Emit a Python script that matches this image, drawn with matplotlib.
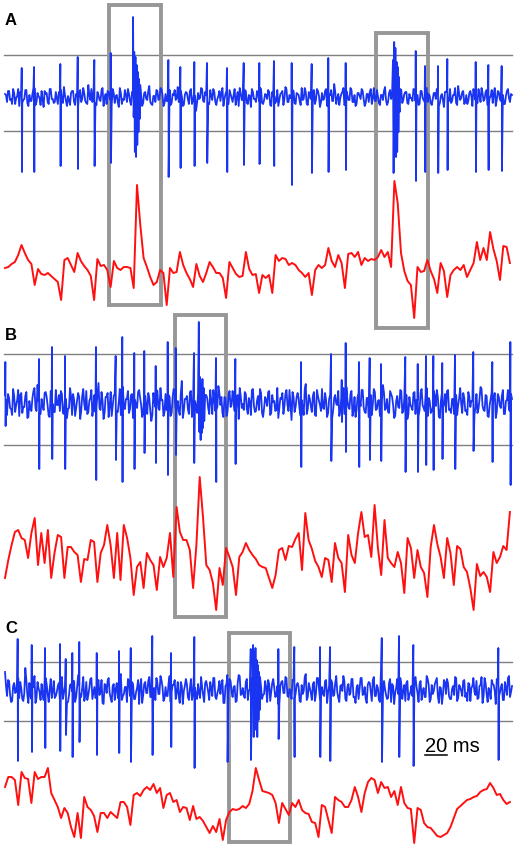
"""Spike train (blue, with thresholds) and LFP (red) for three recordings, A-C.
Grey boxes mark the bursts. Writes out.png at 515x850 px."""
import numpy as np
import matplotlib; matplotlib.use("Agg")
import matplotlib.pyplot as plt
from matplotlib.patches import Rectangle

plt.rcParams['font.family'] = ['Liberation Sans', 'DejaVu Sans']

BLUE = "#1a35f2"; RED = "#ff1010"; LINE = "#7f7f7f"; BOX = "#979797"
W, H = 515, 850          # figure, px
PX_PER_MS = 1.1          # 20 ms bar = 22 px
X0 = 5                   # px where traces start

# ---------------- panel A ----------------
spk_a_t  = [15.2, 26.4, 50.3, 66.1, 81.2, 96.1, 148.5, 159.4, 172.1, 183.6, 201.8, 217.0, 231.2,
            244.5, 260.6, 278.8, 293.9, 309.7, 373.4, 381.8, 393.6, 402.1, 427.9, 439.4, 451.5]
spk_a_up = [29, 30, 33, 40, 37, 44, 37, 30, 35, 34, 29, 34, 34, 36, 34, 33, 39, 34, 46, 31, 31, 38, 35, 32, 31]
spk_a_dn = [-75, -75, -69, -72, -69, -66, -80, -71, -69, -66, -75, -68, -67, -69, -88, -76, -75, -73,
            -84, -75, -76, -73, -75, -73, -74]
burst_a = [(116.4, [80, -20, 45, -55, 40, -60, 32, -48, 25, -35, 18, -22, 12]),
           (352.7, [37, -76, 55, -40, 49, -60, 35, -55, 30, -35, 20, -15])]
# background noise, two interleaved sample rows (even / odd samples)
noise_a = [3,-5,6,-2,8,-7,1,-9,5,-3,7,-6,2,-4,9,-8,4,-1,6,-10,3,-5,8,-2,-6,
           5,-7,2,-3,10,-4,1,-8,6,-5,3,-9,7,-2,4,-6,12,-3,-5,6,-8,2,-4,9,-1,
           -7,5,-3,8,-6,2,-10,4,-2,7,-5,3,-8,6,-1,9,-4,2,-6,5,-3,11,-7,1,-5,
           6,-2,8,-9,3,-4,7,-6,2,-3,10,-5,1,-8,5,-2,6,-7,3,-14,4,-1,8,-5,2,
           -6,7,-3,5,-8,1,-4,9,-2,6,-7,3,-5,8,-1,-9,4,-3,7,-6,2,-10,5,-2,6,
           -4,8,-7,3,-2,5,-9,1,-6,7,-3,4,-8,10,-5,2,-1,6,-7,3,-4,9,-2,5,-8,
           1,-5,7,-3,6,-10,4,-2,8,-6,2,-4,13,-7,3,-1,5,-8,6,-3,9,-5,2,-7,4,
           -2,6,-9,3,-5,8,-1,-4,7,-6,2,-3,10,-8,4,-2,6,-5,1,-9,7,-3,5,-6,3,
           -1,8,-4,2,-7,6,-3,9,-5,1,-8,4,-2,7,-6,3,-10,5,-1,8,-4,2,-6,11,-3,
           5,-7,2,-4,6,-9,3,-1,8,-5,4,-2,7,-8,1,-6,9,-3,5,-4,2,-7,6,-1,3]
noise_a2 = [2,6,-3,-7,4,-1,8,5,-6,-2,7,-9,-4,3,9,-5,1,-8,-3,6,4,-7,8,-2,-5,
            -1,5,7,-6,2,-9,-3,4,6,-8,1,3,-5,9,-4,-7,2,8,-1,-6,5,-3,7,-9,3,
            6,-2,-8,4,1,-5,9,-7,-3,2,8,-4,5,-6,-1,7,3,-9,4,-2,6,-5,-8,1,7,
            -3,9,2,-6,-4,5,-8,3,7,-1,-5,6,-9,2,4,-7,8,-3,1,-6,-2,9,-4,5,3,
            -7,1,8,-5,-2,6,4,-9,3,-6,7,-1,2,-8,5,9,-3,-4,6,-7,1,8,-2,-5,4,
            9,-6,-3,2,7,-8,5,1,-4,-9,3,6,-2,8,-5,-1,7,-6,4,2,-8,-3,9,-7,5,
            -2,4,-7,8,1,-5,-3,6,-9,2,7,-4,5,-1,-8,3,9,-6,2,-3,7,-5,-9,4,1,
            8,-2,-6,3,5,-7,9,-4,1,-8,2,6,-3,-5,7,4,-9,1,-2,8,-6,3,5,-7,-1,
            -4,7,2,-8,6,-1,-5,9,3,-6,-2,4,8,-9,1,-3,5,7,-4,-6,2,9,-8,3,-1,
            6,-5,-7,4,1,8,-3,-6,2,9,-4,5,-8,-1,7,3,-9,6,-2,4,-7,1,8,-5,2]
red_a = [5, 6, 9, 11, 18, 28, 20, 13, 9, -12,
         4, -1, -2, 0, -3, -6, -9, -27, 13, 15,
         8, 1, 20, 12, 7, 3, -3, -27, 14, 7,
         8, 3, -14, 12, 5, 3, 6, 6, 5, -15,
         88, 48, 15, 6, -4, -12, -9, 3, 0, -32,
         5, 0, 1, 21, 8, 0, -6, -14, 9, -3,
         -9, 0, 11, 6, 0, 0, -5, -25, 11, 5,
         -1, -4, -3, 21, 4, -2, -1, -20, -2, -5,
         -2, -20, 18, 12, 15, 14, 8, 10, 8, 3,
         0, -4, 0, -22, 3, 8, 5, 8, 25, 12,
         6, 18, 10, -15, 19, 20, 16, 21, 8, 15,
         12, 14, 13, 16, 23, 16, 21, 6, 92, 70,
         20, 2, -8, -12, -45, 6, 1, 2, 13, 2,
         -6, -20, 10, 2, -24, -2, 3, 6, 3, 8,
         -4, 3, 10, 31, 13, 25, 13, 41, 24, 12,
         -7, 27, 26, 10]

# ---------------- panel B ----------------
spk_b_t  = [0.3, 30.9, 42.7, 54.5, 82.7, 100.6, 106.6, 117.5, 126.6, 137.0, 147.9, 155.2, 171.8,
            191.8, 209.4, 269.1, 296.4, 306.1, 309.7, 321.8, 331.5, 341.8, 363.9, 375.2, 382.7,
            389.4, 397.5, 409.1, 425.7, 443.0, 459.4]
spk_b_up = [41, 44, 56, 47, 56, 47, 66, 50, 52, 37, 61, 55, 50, 45, 44, 41, 49, 23, 60, 41, 45, 39,
            46, 39, 47, 47, 40, 48, 51, 41, 61]
spk_b_dn = [-23, -66, -56, -66, -77, -57, -79, -66, -50, -60, -72, -52, -60, -79, -61, -64, -58, -19,
            -49, -64, -57, -58, -69, -69, -62, -67, -56, -66, -48, -59, -82]
burst_b = [(176.2, [81, -29, 26, -37, 20, -30, 24, -25, 15, -18])]
noise_b = [8,-12,5,-6,14,-9,3,-13,10,-4,7,-15,2,-8,12,-5,18,-10,4,-7,11,-3,-14,6,-9,
           13,-2,-8,9,-11,4,-6,15,-12,3,-5,10,-16,7,-1,12,-9,5,-13,8,-4,20,-7,2,-10,
           6,-14,11,-3,9,-8,1,-12,16,-6,4,-10,8,-15,3,-5,13,-2,-9,7,-11,5,-18,10,-4,
           12,-7,3,-13,9,-1,6,-10,14,-5,2,-12,22,-8,4,-6,11,-14,7,-3,10,-9,1,-15,8,
           -5,13,-11,4,-7,17,-2,-10,6,-13,9,-4,12,-8,3,-16,7,-1,11,-6,5,-12,14,-9,2,
           -7,10,-14,6,-3,12,-10,1,-8,15,-5,4,-11,9,-2,13,-17,6,-4,10,-7,3,-12,19,-6,
           4,-9,11,-13,7,-2,14,-6,3,-10,8,-15,5,-1,12,-8,2,-11,16,-4,9,-13,6,-7,10,
           -3,13,-9,5,-14,8,-1,11,-6,3,-12,18,-7,4,-10,9,-2,-13,7,-5,12,-8,1,-16,6,
           -4,10,-11,3,-7,14,-5,9,-13,2,-8,12,-3,6,-15,10,-1,-9,13,-6,4,-11,8,-2,15,
           -10,5,-7,11,-4,2,-12,9,-6,16,-3,-8,7,-14,4,-1,10,-9,6,-5,13,-11,3,-7,9]
noise_b2 = [3,9,-5,-12,7,-2,13,8,-10,-4,11,-14,-6,5,15,-8,2,-11,-3,10,6,-13,12,-1,-9,
            -2,8,12,-10,4,-15,-5,7,9,-13,3,6,-8,14,-7,-11,2,13,-4,-9,8,-5,11,-16,6,
            10,-3,-13,7,1,-9,14,-11,-5,4,12,-6,9,-10,-2,11,5,-14,7,-3,10,-8,-12,2,13,
            -5,15,3,-9,-7,8,-13,6,11,-2,-8,9,-15,4,7,-11,12,-5,2,-10,-3,14,-6,8,5,
            -11,2,13,-8,-4,10,6,-14,5,-9,12,-2,3,-13,8,15,-5,-7,9,-11,1,13,-3,-8,7,
            14,-10,-5,3,11,-12,8,2,-7,-15,5,10,-3,13,-8,-2,11,-9,6,4,-13,-5,14,-11,8,
            -3,7,-12,13,2,-8,-5,10,-14,4,11,-7,8,-2,-13,5,15,-10,3,-6,12,-8,-14,6,2,
            13,-4,-10,5,8,-12,14,-7,2,-13,3,10,-5,-9,12,6,-15,2,-4,13,-10,5,8,-11,-2,
            -7,11,3,-13,10,-2,-8,15,5,-10,-4,7,13,-14,2,-5,9,12,-7,-10,4,14,-12,5,-1,
            10,-8,-12,6,2,13,-5,-10,4,14,-7,8,-13,-2,11,5,-15,9,-3,7,-11,2,13,-8,4]
red_b = [-30, -12, 3, 16, 18, 10, 8, -10, 15, 30,
         -17, 15, -15, 18, -30, -5, 13, 11, -30, 1,
         1, -4, -7, -34, -11, -12, 8, 6, -34, -5,
         3, 23, 3, -30, 15, -32, 23, 10, -10, -47,
         -19, -14, -40, -5, -12, -17, -42, -9, -19, -10,
         15, -29, 41, 16, 8, 8, -2, -40, 3, 71,
         31, -17, -22, -35, -62, -20, -37, 0, -9, -19,
         -47, -9, -4, 5, -2, -7, -11, -17, -19, -20,
         -30, -40, -27, -2, 0, -12, 2, 1, 9, 15,
         -22, 35, 8, -1, -13, -19, -29, -10, -12, -34,
         5, -10, -15, -44, 13, -7, -15, 15, 36, 11,
         13, -9, 43, 0, -27, 28, -10, -15, -19, -4,
         -15, -45, 10, 0, -30, -2, -19, -25, -49, 1,
         23, 4, -9, -30, 10, -5, -37, 2, -1, -19,
         -24, -40, -62, -16, -28, -24, -29, -44, -4, -15,
         -9, 2, -2, 36]

# ---------------- panel C ----------------
spk_c_t  = [11.5, 24.3, 36.4, 50.0, 55.2, 61.2, 67.5, 83.4, 103.6, 114.3, 133.9, 150.9, 172.1,
            202.1, 223.4, 248.5, 263.0, 286.4, 295.5, 342.5, 358.2, 371.2, 448.5]
spk_c_up = [51, 45, 42, 46, 31, 37, 48, 37, 39, 42, 54, 37, 53, 15, 41, 41, 43, 43, 43, 52, 54, 45, 42]
spk_c_dn = [-71, -62, -58, -61, -45, -67, -52, -65, -63, -72, -65, -57, -78, -72, -70, -49, -67, -67,
            -71, -72, -67, -76, -70]
burst_c = [(225.5, [45, -47, 38, -40, 42, -35, 30, -47, 25, -30, 18, -20])]
noise_c = [18,-6,9,-12,4,-3,10,-8,2,-11,22,-5,7,-9,3,-13,8,-2,6,-10,12,-4,1,-8,9,
           -6,4,-10,13,-3,7,-12,5,-1,9,-7,15,-4,2,-11,8,-5,11,-9,3,-6,10,-2,-13,6,
           -3,12,-8,4,-10,7,-1,16,-6,3,-12,9,-4,6,-9,2,-14,11,-5,8,-3,13,-7,1,-10,
           7,-4,10,-11,3,-6,14,-2,5,-9,8,-13,4,-1,11,-7,2,-10,17,-5,6,-8,3,-12,9,
           -2,8,-6,12,-9,1,-4,10,-13,6,-3,9,-7,4,-11,15,-5,2,-8,11,-1,-10,7,-4,13,
           -8,3,-5,9,-12,6,-2,11,-7,4,-14,8,-3,13,-6,1,-9,10,-4,7,-11,5,-1,16,-7,
           2,-10,8,-4,12,-9,3,-6,10,-2,-12,7,-5,14,-8,4,-1,9,-11,6,-3,11,-7,2,-9,
           12,-5,3,-13,8,-2,10,-6,5,-10,18,-4,1,-9,7,-12,4,-3,11,-8,6,-1,-11,9,-5,
           4,-8,13,-3,6,-10,2,-7,11,-12,5,-1,9,-6,3,-14,10,-4,7,-9,1,-5,12,-8,3,
           -6,10,-3,7,-11,4,-2,9,-8,5,-13,12,-4,2,-9,6,-1,11,-7,3,-10,8,-5,14,-2]
noise_c2 = [4,10,-5,-11,7,-2,12,8,-9,-3,10,-13,-6,5,14,-8,2,-10,-4,9,6,-12,11,-1,-8,
            -2,7,11,-9,4,-13,-5,6,9,-12,3,5,-7,13,-6,-10,2,12,-3,-8,7,-5,10,-14,5,
            9,-3,-12,6,1,-8,13,-10,-4,3,11,-6,8,-9,-2,10,4,-13,6,-3,9,-7,-11,2,12,
            -4,14,3,-8,-6,7,-12,5,10,-2,-7,8,-14,4,6,-10,11,-4,2,-9,-3,13,-5,7,4,
            -10,2,12,-7,-3,9,5,-13,4,-8,11,-2,3,-12,7,14,-4,-6,8,-10,1,12,-3,-7,6,
            13,-9,-4,3,10,-11,7,2,-6,-14,4,9,-3,12,-7,-2,10,-8,5,3,-12,-4,13,-10,7,
            -3,6,-11,12,2,-7,-4,9,-13,4,10,-6,7,-2,-12,5,14,-9,3,-5,11,-7,-13,5,2,
            12,-4,-9,5,7,-11,13,-6,2,-12,3,9,-5,-8,11,6,-14,2,-4,12,-9,5,7,-10,-2,
            -6,10,3,-12,9,-2,-7,14,5,-9,-4,6,12,-13,2,-5,8,11,-6,-9,4,13,-11,5,-1,
            9,-7,-11,6,2,12,-5,-9,4,13,-6,7,-12,-2,10,5,-14,8,-3,6,-10,2,12,-7,4]
red_c = [18, 28, 28, 25, 0, 33, 27, 26, 2, 33,
         26, 28, 28, 37, 12, 5, -2, -13, -3, -8,
         -22, -32, -8, -33, 8, -2, -5, -11, -27, -8,
         -8, -13, -7, -10, -13, 3, 3, -2, -20, 10,
         12, 9, 15, 18, 15, 21, 12, 17, -3, 10,
         12, 3, 5, -7, -2, -3, -15, -1, -14, -12,
         -16, -22, -28, -21, -27, -14, -35, -15, -7, -4,
         -5, -4, -1, -3, 1, 14, 37, 25, 14, 13,
         12, 10, 2, -18, 2, -4, -10, 2, -2, 5,
         -5, -8, -9, -17, -18, -32, 0, -2, -15, -28,
         8, 5, 3, -2, -2, 5, 18, 8, -7, 12,
         23, 27, 25, 12, 23, 17, 18, 8, 14, 0,
         18, 2, -3, -4, -38, -3, -5, -18, -22, -23,
         -27, -31, -32, -30, -28, -22, -13, -4, -1, 2,
         5, 6, 8, 9, 13, 15, 16, 22, 17, 10,
         11, 5, 1, 3]

RED_DT = 3.0   # ms between LFP samples

# layout per panel: px rows, blue baseline, red baseline, threshold levels, line start, boxes (ms, y)
panels = [
    dict(lab="A", top=0, bot=310, base=97, red_base=273, thr=(42, -34), lx=(-0.9, -0.9), lab_y=25,
         boxes=[(94.5, 141.8, -208, 91.7), (337.3, 384.5, -231, 64.5)],
         noise=(noise_a, noise_a2), st=spk_a_t, su=spk_a_up, sd=spk_a_dn, bursts=burst_a, red=red_a),
    dict(lab="B", top=310, bot=620, base=403, red_base=548, thr=(49, -42), lx=(-0.9, -0.9), lab_y=340,
         boxes=[(154.1, 200.5, -214, 88)],
         noise=(noise_b, noise_b2), st=spk_b_t, su=spk_b_up, sd=spk_b_dn, bursts=burst_b, red=red_b),
    dict(lab="C", top=620, bot=850, base=690, red_base=805, thr=(28, -31), lx=(22.7, -0.9), lab_y=633,
         boxes=[(203.9, 259.1, -152.3, 56.7)],
         noise=(noise_c, noise_c2), st=spk_c_t, su=spk_c_up, sd=spk_c_dn, bursts=burst_c, red=red_c),
]

def blue_trace(noise, st, su, sd, bursts):
    even, odd = noise
    te = np.linspace(0, 460, len(even)); half = (te[1] - te[0]) / 2
    t = list(te) + list(np.linspace(0, 460, len(odd)) + half)
    v = list(even) + list(odd)
    for ts, up, dn in zip(st, su, sd):
        t += [ts, ts + 0.25]; v += [up, dn]
    for t0, vals in bursts:
        for i, b in enumerate(vals):
            t.append(t0 + 0.55 * i); v.append(b)
    o = np.argsort(t, kind="stable")
    return np.array(t)[o], np.array(v, float)[o]

fig = plt.figure(figsize=(W / 100, H / 100), dpi=100)
x_end = (512 - X0) / PX_PER_MS
for p in panels:
    ax = fig.add_axes([0, 1 - p["bot"] / H, 1, (p["bot"] - p["top"]) / H])
    ax.set_xlim(-X0 / PX_PER_MS, (W - X0) / PX_PER_MS)
    ax.set_ylim(p["base"] - p["bot"], p["base"] - p["top"])
    ax.axis("off")
    for lvl, xs in zip(p["thr"], p["lx"]):
        ax.plot([xs, x_end], [lvl, lvl], color=LINE, lw=1.0, zorder=1)
    for x0, x1, y0, y1 in p["boxes"]:
        ax.add_patch(Rectangle((x0, y0), x1 - x0, y1 - y0, fill=False, ec=BOX, lw=2.8,
                               zorder=2, clip_on=False))
    bt, bv = blue_trace(p["noise"], p["st"], p["su"], p["sd"], p["bursts"])
    ax.plot(bt, bv, color=BLUE, lw=1.3, zorder=3, clip_on=False)
    rt = np.arange(len(p["red"])) * RED_DT
    ax.plot(rt, np.array(p["red"]) + (p["base"] - p["red_base"]), color=RED, lw=1.4, zorder=3,
            clip_on=False)
    fig.text(5 / W, 1 - p["lab_y"] / H, p["lab"], fontsize=12, weight="bold", ha="left", va="baseline")
    if p["lab"] == "C":
        ax.plot([381.8, 401.8], [-65, -65], color="k", lw=1.1)
        ax.text(381.8, -62, "20 ms", fontsize=14.5, ha="left", va="baseline")

fig.savefig("out.png", dpi=100)
